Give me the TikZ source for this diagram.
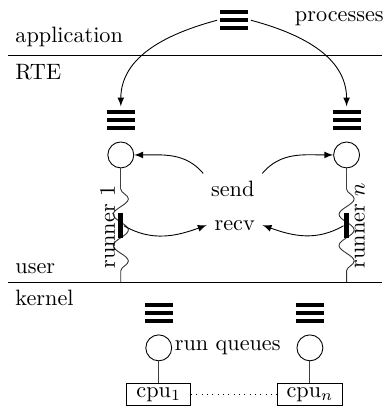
\documentclass[tikz,border=0pt]{standalone}
\usetikzlibrary{decorations.pathmorphing,positioning}
\tikzset{
	queue/.style={minimum width=0.52cm, minimum height=0.42cm, inner sep=0pt,
		path picture={
			\foreach \dy in {-0.125,0,0.125}
				\draw[line width=1.8pt] ([xshift=-0.22cm,yshift=\dy cm]path picture bounding box.center) -- ++(0.44,0);
		}},
	proc/.style={circle, draw, minimum size=0.41cm, inner sep=0pt},
	lockbar/.style={fill=black, minimum width=2.4pt, minimum height=0.4cm, inner sep=0pt},
	stem/.style={black!75},
	wiggle/.style={black!80, decorate, decoration={snake, segment length=14pt, amplitude=3.4pt}},
	cpubox/.style={draw, inner xsep=4.3pt, inner ysep=1.8pt},
}
\begin{document}
\begin{tikzpicture}
		
		\useasboundingbox (0,0) rectangle (6.04,6.53);
		
		%Layers
		\draw[-] (0.13,5.66) coordinate -- (6.04,5.66) coordinate;
		\draw[-] (0.13,2.07) coordinate -- (6.04,2.07) coordinate;
		\node[anchor=west] (app) at (0.12,5.94) {application};
		\node[anchor=west] (rte) at (0.12,5.39) {RTE};
		\node[anchor=west] (usr) at (0.12,2.29) {user};
		\node[anchor=west] (krn) at (0.12,1.82) {kernel};
		
		%Processes
		\node[queue] (topq) at (3.70,6.21) {};
		\node[anchor=west] (procs) at (4.54,6.24) {processes};
		\node[queue] (rq1) at (1.91,4.63) {};
		\node[queue] (rqn) at (5.48,4.63) {};
		\draw[-latex] (topq.west) to[out=195,in=90] (rq1.north);
		\draw[-latex] (topq.east) to[out=-15,in=90] (rqn.north);
		
		%Runners
		\node[proc] (p1) at (1.91,4.08) {};
		\node[proc] (pn) at (5.48,4.08) {};
		\coordinate (w1) at (1.91,3.54);
		\coordinate (b1) at (1.91,2.07);
		\coordinate (wn) at (5.48,3.54);
		\coordinate (bn) at (5.48,2.07);
		\draw[stem] (p1.south) -- (w1);
		\draw[stem] (pn.south) -- (wn);
		\draw[wiggle] (w1) -- (b1);
		\draw[wiggle] (wn) -- (bn);
		\node[lockbar] (lk1) at (1.91,2.96) {};
		\node[lockbar] (lkn) at (5.48,2.96) {};
		\node[rotate=90] (r1) at (1.70,2.94) {runner 1};
		\node[rotate=90] (rn) at (5.69,2.96) {runner $n$};
		
		%Messages
		\node (send) at (3.68,3.54) {send};
		\node (recv) at (3.71,2.97) {recv};
		\draw[-latex] (send.north west) to[out=130,in=0] (p1.east);
		\draw[-latex] (send.north east) to[out=50,in=180] (pn.west);
		\draw[-latex] (lk1.east) to[out=-30,in=200] (recv.west);
		\draw[-latex] (lkn.west) to[out=210,in=-20] (recv.east);
		
		%Kernel
		\node[queue] (kq1) at (2.51,1.58) {};
		\node[queue] (kqn) at (4.90,1.58) {};
		\node[proc] (k1) at (2.51,1.03) {};
		\node[proc] (kn) at (4.90,1.03) {};
		\node[anchor=west, inner sep=1pt] (rql) at (k1.east) {run queues};
		\node[cpubox] (cpu1) at (2.51,0.29) {cpu$_1$};
		\node[cpubox] (cpun) at (4.90,0.29) {cpu$_n$};
		\draw[stem] (k1) -- (cpu1);
		\draw[stem] (kn) -- (cpun);
		\draw[dotted] (cpu1) -- (cpun);
		
		\end{tikzpicture}
\end{document}
